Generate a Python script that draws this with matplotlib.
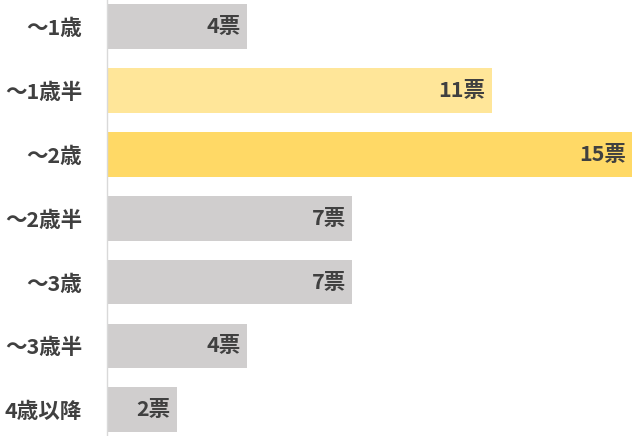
import matplotlib
matplotlib.use("Agg")
import matplotlib.pyplot as plt

categories = ["～1歳", "～1歳半", "～2歳", "～2歳半", "～3歳", "～3歳半", "4歳以降"]
votes = [4, 11, 15, 7, 7, 4, 2]
colors = ["#D0CECE", "#FFE699", "#FFD966", "#D0CECE", "#D0CECE", "#D0CECE", "#D0CECE"]
value_labels = [f"{v}票" for v in votes]

plt.rcParams['font.family'] = ['Noto Sans CJK JP', 'DejaVu Sans']

fig = plt.figure(figsize=(6.4, 4.36), dpi=100)
ax = fig.add_axes([107/640, 0, 525/640, 1])
y = list(range(len(categories)))
bars = ax.barh(y, votes, height=0.7, color=colors, zorder=2)
ax.set_xlim(0, 15)
ax.set_ylim(len(categories) - 0.59, -0.42)
ax.set_yticks(y)
ax.set_yticklabels(categories, fontsize=15.5, fontweight='bold', color='#404040')
ax.tick_params(axis='y', length=0, pad=18)
ax.set_xticks([])
for s in ['top', 'right', 'bottom']:
    ax.spines[s].set_visible(False)
ax.spines['left'].set_color('#D9D9D9')
ax.spines['left'].set_linewidth(1)
ax.spines['left'].set_zorder(3)
for yi, v, lab in zip(y, votes, value_labels):
    ax.annotate(lab, xy=(v, yi), xytext=(-4.5, 0), textcoords='offset points',
                ha='right', va='center', fontsize=15.5, fontweight='bold', color='#404040')
fig.savefig("out.png", dpi=100)
